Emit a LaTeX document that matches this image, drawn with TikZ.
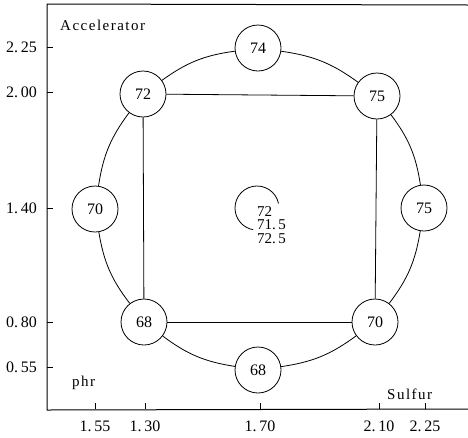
\documentclass[tikz,border=0pt]{standalone}
\usepackage{fontspec}
\setmainfont{Liberation Serif}
\newfontfamily\spacedfont[LetterSpace=10]{Liberation Serif}
\begin{document}
\begin{tikzpicture}[x=1pt,y=-1pt,
  num/.style={circle,draw,line width=0.8pt,minimum size=46pt,inner sep=0pt,fill=white,font=\fontsize{16}{16}\selectfont},
  ticklab/.style={font=\fontsize{16}{16}\selectfont,inner sep=0pt},
  lab/.style={font=\spacedfont\fontsize{15}{15}\selectfont,inner sep=0pt,anchor=west},
  conn/.style={line width=0.8pt},
  ring/.style={line width=0.8pt,bend left=14},
  axis/.style={line width=1pt}]
\useasboundingbox (0,0) rectangle (468,437);
% axes
\draw[axis] (468,5) -- (47,4) -- (47,410) -- (468,409);
\foreach \y in {47,92,208,322,367} \draw[axis] (47,\y) -- (53,\y);
\foreach \x in {95,145,260,379,425} \draw[axis] (\x,409) -- (\x,403);
% tick labels
\node[ticklab,anchor=east] (l225) at (37,47) {2.\,25};
\node[ticklab,anchor=east] (l200) at (37,92) {2.\,00};
\node[ticklab,anchor=east] (l140) at (37,208) {1.\,40};
\node[ticklab,anchor=east] (l080) at (37,322) {0.\,80};
\node[ticklab,anchor=east] (l055) at (37,367) {0.\,55};
\node[ticklab] (b155) at (95,426) {1.\,55};
\node[ticklab] (b130) at (145,426) {1.\,30};
\node[ticklab] (b170) at (260,426) {1.\,70};
\node[ticklab] (b210) at (379,426) {2.\,10};
\node[ticklab] (b225) at (425,426) {2.\,25};
% axis labels
\node[lab] (acc) at (60,25) {Accelerator};
\node[lab] (phr) at (72,383) {phr};
\node[lab] (sul) at (387,394) {Sulfur};
% nodes
\node[num] (a) at (258,48) {74};
\node[num] (b) at (377,96) {75};
\node[num] (c) at (424,208) {75};
\node[num] (d) at (375,322) {70};
\node[num] (e) at (258,370) {68};
\node[num] (f) at (144,322) {68};
\node[num] (g) at (95,209) {70};
\node[num] (h) at (143,94) {72};
% ring
\draw[ring] (a) to (b);
\draw[ring] (b) to (c);
\draw[ring] (c) to (d);
\draw[ring] (d) to (e);
\draw[ring] (e) to (f);
\draw[ring] (f) to (g);
\draw[ring] (g) to (h);
\draw[ring] (h) to (a);
% square
\draw[conn] (h) -- (b);
\draw[conn] (b) -- (d);
\draw[conn] (d) -- (f);
\draw[conn] (f) -- (h);
% centre
\coordinate (ctr) at (257,208);
\draw[conn] ([shift={(-12:22)}]ctr) arc[start angle=-12,end angle=-260,radius=22];
\node[font=\fontsize{15}{13.5}\selectfont,inner sep=0pt,align=left,anchor=north west] (t) at (257,206) {72\\71.\,5\\72.\,5};
\end{tikzpicture}
\end{document}
